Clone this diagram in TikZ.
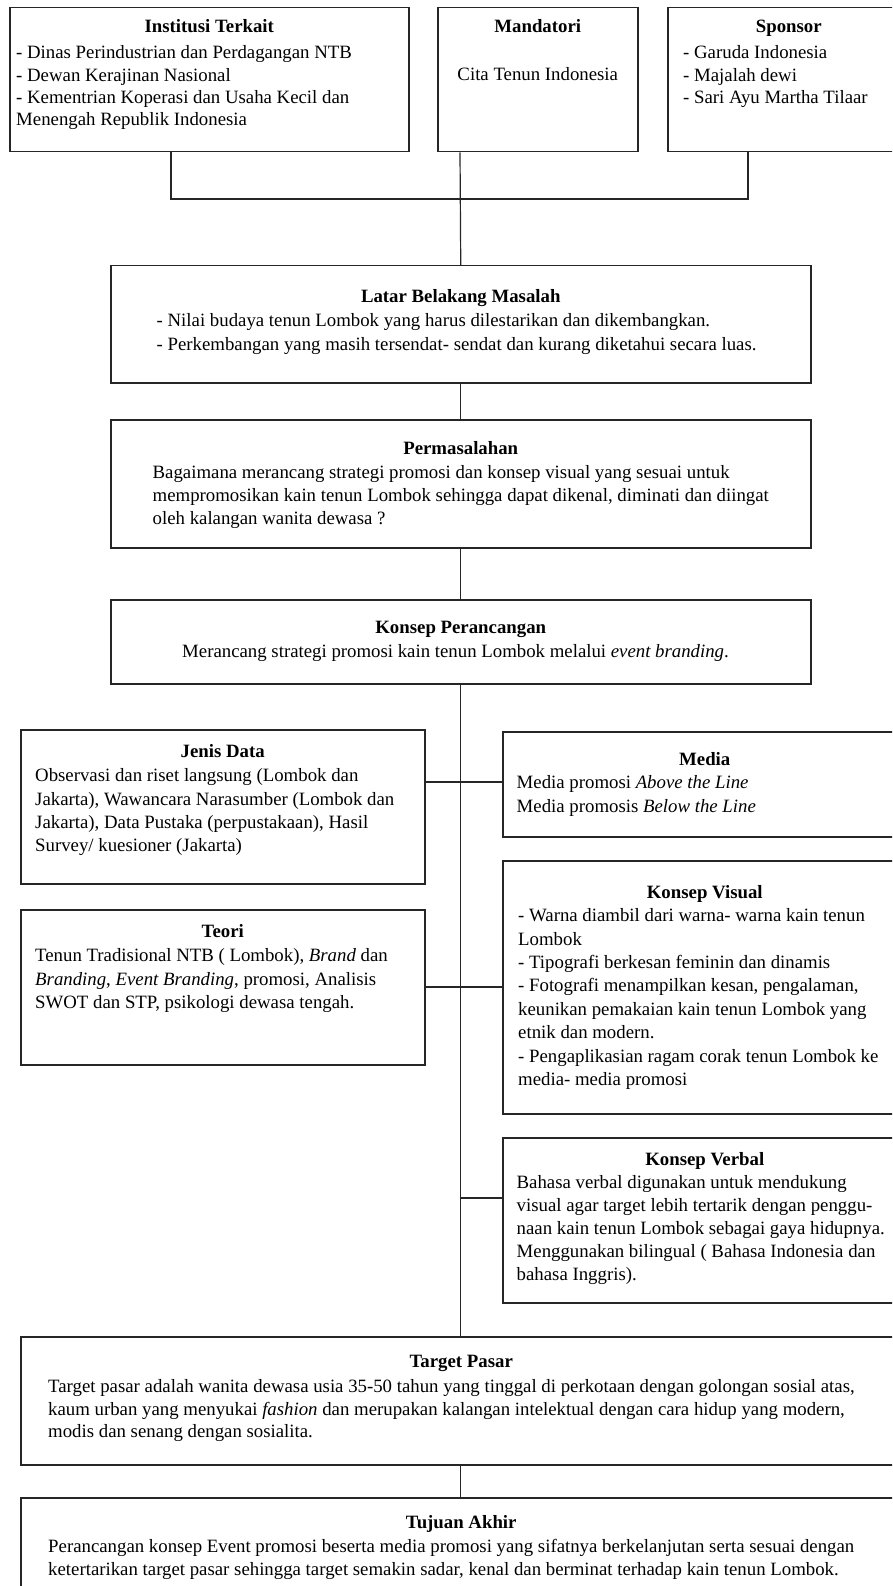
\documentclass[tikz,border=0pt]{standalone}
\usepackage{fontspec}
\setmainfont{Liberation Serif}
\usetikzlibrary{positioning}

\tikzset{
  kotak/.style={draw=black!85, line width=1.5pt, anchor=north west, inner sep=0pt},
  judul/.style={anchor=base, inner sep=0pt, font=\fontsize{18.8}{22}\selectfont\bfseries},
  isi/.style={anchor=north west, inner sep=0pt, align=left, font=\fontsize{18.8}{23.3}\selectfont},
  garis/.style={draw=black!85, line width=1.2pt},
}

\begin{document}
\begin{tikzpicture}[x=1pt, y=-1pt]
        \useasboundingbox (0,0) rectangle (892,1586);
        \clip (0,0) rectangle (892,1586);
        % kotak
        \node[kotak, minimum width=399pt, minimum height=144pt] (institusi) at (9,7) {};
        \node[kotak, minimum width=200pt, minimum height=144pt] (mandatori) at (437,7) {};
        \node[kotak, minimum width=242pt, minimum height=144pt] (sponsor) at (667,7) {};
        \node[kotak, minimum width=700pt, minimum height=117pt] (latar) at (110,265) {};
        \node[kotak, minimum width=700pt, minimum height=128pt] (masalah) at (110,419) {};
        \node[kotak, minimum width=700pt, minimum height=84pt] (konsep) at (110,599) {};
        \node[kotak, minimum width=404pt, minimum height=154pt] (data) at (20,729) {};
        \node[kotak, minimum width=404pt, minimum height=155pt] (teori) at (20,909) {};
        \node[kotak, minimum width=404pt, minimum height=105pt] (media) at (502,731) {};
        \node[kotak, minimum width=404pt, minimum height=253pt] (visual) at (502,860) {};
        \node[kotak, minimum width=404pt, minimum height=165pt] (verbal) at (502,1137) {};
        \node[kotak, minimum width=881pt, minimum height=128pt] (target) at (20,1336) {};
        \node[kotak, minimum width=881pt, minimum height=120pt] (tujuan) at (20,1497) {};
        % judul
        \node[judul] (institusi-j) at ([yshift=-26pt]institusi.north) {Institusi Terkait};
        \node[judul] (mandatori-j) at ([yshift=-26pt]mandatori.north) {Mandatori};
        \node[judul] (sponsor-j) at ([yshift=-26pt]sponsor.north) {Sponsor};
        \node[judul] (latar-j) at ([yshift=-37.6pt]latar.north) {Latar Belakang Masalah};
        \node[judul] (masalah-j) at ([yshift=-35.6pt]masalah.north) {Permasalahan};
        \node[judul] (konsep-j) at ([yshift=-34.6pt]konsep.north) {Konsep Perancangan};
        \node[judul] (data-j) at ([yshift=-28.6pt]data.north) {Jenis Data};
        \node[judul] (media-j) at ([yshift=-34.6pt]media.north) {Media};
        \node[judul] (visual-j) at ([yshift=-38.6pt]visual.north) {Konsep Visual};
        \node[judul] (teori-j) at ([yshift=-28.6pt]teori.north) {Teori};
        \node[judul] (verbal-j) at ([yshift=-28.6pt]verbal.north) {Konsep Verbal};
        \node[judul] (target-j) at ([yshift=-31.6pt]target.north) {Target Pasar};
        \node[judul] (tujuan-j) at ([yshift=-31.6pt]tujuan.north) {Tujuan Akhir};
        % isi
        \node[isi, font=\fontsize{18.8}{22.3}\selectfont] (institusi-i) at ([xshift=7pt, yshift=-38.5pt]institusi.north west)
          {- Dinas Perindustrian dan Perdagangan NTB\\- Dewan Kerajinan Nasional\\- Kementrian Koperasi dan Usaha Kecil dan\\Menengah Republik Indonesia};
        \node[isi, anchor=north] (mandatori-i) at ([yshift=-60.5pt]mandatori.north) {Cita Tenun Indonesia};
        \node[isi, font=\fontsize{18.8}{22.5}\selectfont] (sponsor-i) at ([xshift=16pt, yshift=-38.5pt]sponsor.north west)
          {- Garuda Indonesia\\- Majalah dewi\\- Sari Ayu Martha Tilaar};
        \node[isi, font=\fontsize{18.8}{24}\selectfont] (latar-i) at ([xshift=46.5pt, yshift=-48.5pt]latar.north west)
          {- Nilai budaya tenun Lombok yang harus dilestarikan dan dikembangkan.\\- Perkembangan yang masih tersendat- sendat dan kurang diketahui secara luas.};
        \node[isi, font=\fontsize{18.8}{23}\selectfont] (masalah-i) at ([xshift=42.5pt, yshift=-46.5pt]masalah.north west)
          {Bagaimana merancang strategi promosi dan konsep visual yang sesuai untuk\\mempromosikan kain tenun Lombok sehingga dapat dikenal, diminati dan diingat\\oleh kalangan wanita dewasa ?};
        \node[isi] (konsep-i) at ([xshift=72pt, yshift=-45.5pt]konsep.north west)
          {Merancang strategi promosi kain tenun Lombok melalui \textit{event branding}.};
        \node[isi] (data-i) at ([xshift=15pt, yshift=-39.5pt]data.north west)
          {Observasi dan riset langsung (Lombok dan\\Jakarta), Wawancara Narasumber (Lombok dan\\Jakarta), Data Pustaka (perpustakaan), Hasil\\Survey/ kuesioner (Jakarta)};
        \node[isi, font=\fontsize{18.8}{24}\selectfont] (media-i) at ([xshift=14.5pt, yshift=-44.5pt]media.north west)
          {Media promosi \textit{Above the Line}\\Media promosis \textit{Below the Line}};
        \node[isi, font=\fontsize{18.8}{23.4}\selectfont] (visual-i) at ([xshift=16pt, yshift=-48.5pt]visual.north west)
          {- Warna diambil dari warna- warna kain tenun\\Lombok\\- Tipografi berkesan feminin dan dinamis\\- Fotografi menampilkan kesan, pengalaman,\\keunikan pemakaian kain tenun Lombok yang\\etnik dan modern.\\- Pengaplikasian ragam corak tenun Lombok ke\\media- media promosi};
        \node[isi, font=\fontsize{18.8}{23.5}\selectfont] (teori-i) at ([xshift=15pt, yshift=-39.5pt]teori.north west)
          {Tenun Tradisional NTB ( Lombok), \textit{Brand} dan\\\textit{Branding}, \textit{Event Branding}, promosi, Analisis\\SWOT dan STP, psikologi dewasa tengah.};
        \node[isi, font=\fontsize{18.8}{23}\selectfont] (verbal-i) at ([xshift=14.5pt, yshift=-38.5pt]verbal.north west)
          {Bahasa verbal digunakan untuk mendukung\\visual agar target lebih tertarik dengan penggu-\\naan kain tenun Lombok sebagai gaya hidupnya.\\Menggunakan bilingual ( Bahasa Indonesia dan\\bahasa Inggris).};
        \node[isi, font=\fontsize{18.8}{22.5}\selectfont] (target-i) at ([xshift=28pt, yshift=-43.5pt]target.north west)
          {Target pasar adalah wanita dewasa usia 35-50 tahun yang tinggal di perkotaan dengan golongan sosial atas,\\kaum urban yang menyukai \textit{fashion} dan merupakan kalangan intelektual dengan cara hidup yang modern,\\modis dan senang dengan sosialita.};
        \node[isi, font=\fontsize{18.8}{23}\selectfont] (tujuan-i) at ([xshift=28pt, yshift=-42.5pt]tujuan.north west)
          {Perancangan konsep Event promosi beserta media promosi yang sifatnya berkelanjutan serta sesuai dengan\\ketertarikan target pasar sehingga target semakin sadar, kenal dan berminat terhadap kain tenun Lombok.};
        % garis penghubung
        \coordinate (simpul) at (460,199);
        \draw[garis] ([xshift=162pt]institusi.south west) |- (simpul) -| ([xshift=81pt]sponsor.south west);
        \draw[garis] (mandatori.south -| simpul) -- (latar.north);
        \draw[garis] (latar.south) -- (masalah.north);
        \draw[garis] (masalah.south) -- (konsep.north);
        \draw[garis] (konsep.south) -- (konsep.south |- target.north);
        \draw[garis] (target.south -| konsep.south) -- (tujuan.north -| konsep.south);
        \draw[garis] ([yshift=-53pt]data.north east) coordinate (d1) -- (d1 -| media.west);
        \draw[garis] ([yshift=-78pt]teori.north east) coordinate (t1) -- (t1 -| visual.west);
        \draw[garis] ([yshift=-61pt]verbal.north west) coordinate (v1) -- (v1 -| simpul);
\end{tikzpicture}
\end{document}
